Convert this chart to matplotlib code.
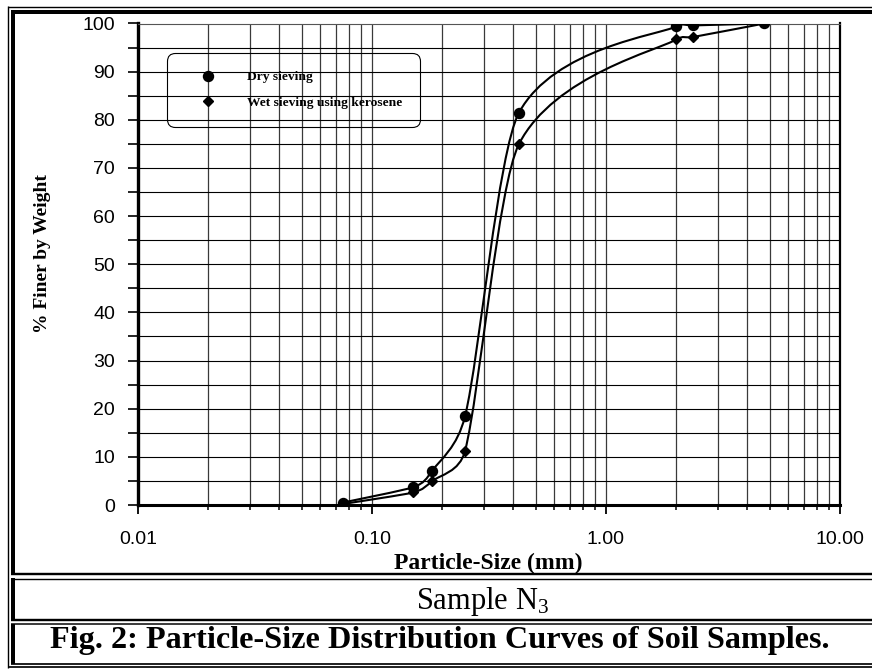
import numpy as np
import matplotlib
matplotlib.use("Agg")
import matplotlib.pyplot as plt
from matplotlib.path import Path
from matplotlib.patches import PathPatch
from matplotlib.lines import Line2D
from matplotlib.ticker import FixedLocator, FuncFormatter, LogLocator, NullFormatter

plt.rcParams['mathtext.fontset'] = 'custom'
plt.rcParams['mathtext.rm'] = 'Liberation Serif'
plt.rcParams['mathtext.it'] = 'Liberation Serif:italic'

# ---------------- data ----------------
sizes_dry = [0.075, 0.15, 0.18, 0.25, 0.425, 2.0, 2.36, 4.75]
finer_dry = [0.5, 3.7, 7.0, 18.5, 81.5, 99.4, 99.6, 100.0]
sizes_wet = [0.075, 0.15, 0.18, 0.25, 0.425, 2.0, 2.36, 4.75]
finer_wet = [0.2, 2.6, 4.9, 11.3, 75.0, 96.7, 97.2, 100.0]
series_names = ["Dry sieving", "Wet sieving using kerosene"]
x_ticks = [0.01, 0.1, 1.0, 10.0]
y_ticks = list(range(0, 101, 10))
x_label = "Particle-Size (mm)"
y_label = "% Finer by Weight"
sample_text = "Sample N$_3$"
caption = "Fig. 2: Particle-Size Distribution Curves of Soil Samples."

W, H = 872, 669
fig = plt.figure(figsize=(W / 100, H / 100), dpi=100)

# axes placement (pixels)
ax_l, ax_r, ax_t, ax_b = 138, 840, 23.5, 505
ax = fig.add_axes([ax_l / W, 1 - ax_b / H, (ax_r - ax_l) / W, (ax_b - ax_t) / H])
ax.set_xscale('log')
ax.set_xlim(0.01, 10)
ax.set_ylim(0, 100)
ax.patch.set_facecolor('white')

# grid
ax.xaxis.set_major_locator(FixedLocator(x_ticks))
ax.xaxis.set_minor_locator(LogLocator(base=10, subs=np.arange(2, 10)))
ax.xaxis.set_major_formatter(FuncFormatter(lambda v, p: f"{v:.2f}"))
ax.xaxis.set_minor_formatter(NullFormatter())
ax.yaxis.set_major_locator(FixedLocator(y_ticks))
ax.yaxis.set_minor_locator(FixedLocator(list(range(5, 100, 10))))
ax.grid(True, which='both', axis='x', color='#3a3a3a', lw=0.9)
ax.grid(True, which='both', axis='y', color='black', lw=0.8)
ax.set_axisbelow(True)

ax.tick_params(axis='x', which='major', direction='out', length=6.5, width=1.3,
               pad=12.5, labelsize=14, top=False)
ax.tick_params(axis='x', which='minor', direction='out', length=3.8, width=1.1, top=False)
ax.tick_params(axis='y', which='both', direction='out', length=7.2, width=1.2,
               pad=9.4, labelsize=14, right=False)
for lab in ax.get_xticklabels() + ax.get_yticklabels():
    lab.set_fontfamily('Liberation Sans')

ax.spines['left'].set_linewidth(2.4)
ax.spines['bottom'].set_linewidth(2.2)
ax.spines['right'].set_linewidth(1.6)
ax.spines['top'].set_linewidth(0.8)
ax.spines['top'].set_color('#555555')

# ---------- smoothed curves (Bezier through the points) ----------
sx = (ax_r - ax_l) / 3.0      # px per decade
sy = (ax_b - ax_t) / 100.0    # px per unit
K_OUT = 1 / 6                 # handle factor leaving a point
K_IN = 0.10                   # handle factor arriving at a point


def smooth_path(xs, ys):
    P = np.column_stack([np.log10(xs) * sx, np.asarray(ys) * sy])
    n = len(P)
    verts = [P[0]]
    codes = [Path.MOVETO]
    for i in range(n - 1):
        p_prev = P[i - 1] if i > 0 else P[i]
        p_next = P[i + 2] if i + 2 < n else P[i + 1]
        d12 = np.linalg.norm(P[i + 1] - P[i])
        d02 = np.linalg.norm(P[i + 1] - p_prev)
        d13 = np.linalg.norm(p_next - P[i])
        f1 = K_OUT if d02 * K_OUT < d12 / 2 else d12 / (2 * d02)
        f2 = K_IN if d13 * K_IN < d12 / 2 else d12 / (2 * d13)
        c1 = P[i] + (P[i + 1] - p_prev) * f1
        c2 = P[i + 1] - (p_next - P[i]) * f2
        verts += [c1, c2, P[i + 1]]
        codes += [Path.CURVE4] * 3
    V = np.array(verts)
    data = np.column_stack([10 ** (V[:, 0] / sx), V[:, 1] / sy])
    return Path(data, codes)


for xs, ys in [(sizes_wet, finer_wet), (sizes_dry, finer_dry)]:
    ax.add_patch(PathPatch(smooth_path(xs, ys), facecolor='none', edgecolor='black',
                           lw=1.5, zorder=3))

ax.plot(sizes_wet, finer_wet, linestyle='none', marker='D', ms=5.1, color='black', zorder=4)
ax.plot(sizes_dry, finer_dry, linestyle='none', marker='o', ms=7.2, color='black', zorder=5)

# legend
handles = [Line2D([], [], linestyle='none', marker='o', ms=7.2, color='black'),
           Line2D([], [], linestyle='none', marker='D', ms=5.1, color='black')]
leg = ax.legend(handles, series_names, loc='upper left',
                bbox_to_anchor=(167 / W, 1 - 53 / H), bbox_transform=fig.transFigure,
                borderaxespad=0, prop={'family': 'Liberation Serif', 'weight': 'bold', 'size': 9.7},
                borderpad=1.34, handlelength=3.42, handletextpad=1.19, labelspacing=0.97,
                fancybox=True, framealpha=1)
leg.get_frame().set_facecolor('none')
leg.get_frame().set_edgecolor('black')
leg.get_frame().set_linewidth(0.8)
leg.get_frame().set_boxstyle('round,pad=0,rounding_size=0.6')

# axis labels
ax.set_xlabel(x_label, family='Liberation Serif', weight='bold', fontsize=17)
ax.xaxis.set_label_coords((488 - ax_l) / (ax_r - ax_l), (ax_b - 569) / (ax_b - ax_t))
ax.xaxis.label.set_va('baseline')
ax.set_ylabel(y_label, family='Liberation Serif', weight='bold', fontsize=14)
ax.yaxis.set_label_coords((43 - ax_l) / (ax_r - ax_l), (ax_b - 254) / (ax_b - ax_t))
ax.yaxis.label.set_va('center')

# lower boxes text
fig.text(483 / W, 1 - 609 / H, sample_text, family='Liberation Serif', fontsize=22,
         ha='center', va='baseline')
fig.text(440 / W, 1 - 648 / H, caption, family='Liberation Serif', weight='bold',
         fontsize=23.2, ha='center', va='baseline')


# ---------- table-like borders (figure pixels) ----------
def hline(y, lw_px, x0=7.5, x1=W):
    fig.add_artist(Line2D([x0 / W, x1 / W], [1 - y / H, 1 - y / H], color='black',
                          lw=lw_px * 0.72, solid_capstyle='butt', transform=fig.transFigure))


def vline(x, y0, y1, lw_px):
    fig.add_artist(Line2D([x / W, x / W], [1 - y0 / H, 1 - y1 / H], color='black',
                          lw=lw_px * 0.72, solid_capstyle='butt', transform=fig.transFigure))


hline(6.5, 1.4)
hline(12, 4.0, x0=11)
hline(574, 2.4, x0=11)
hline(578.5, 1.4, x0=11)
hline(619.5, 2.4, x0=11)
hline(624, 1.5, x0=11)
hline(663.5, 1.7, x0=11)
hline(667, 1.7)
vline(7.5, 6, 667.8, 1.4)
vline(13, 10, 574, 4.0)
vline(13, 578, 619.5, 4.0)
vline(13, 624, 663.5, 4.0)

fig.savefig('out.png', dpi=100)
